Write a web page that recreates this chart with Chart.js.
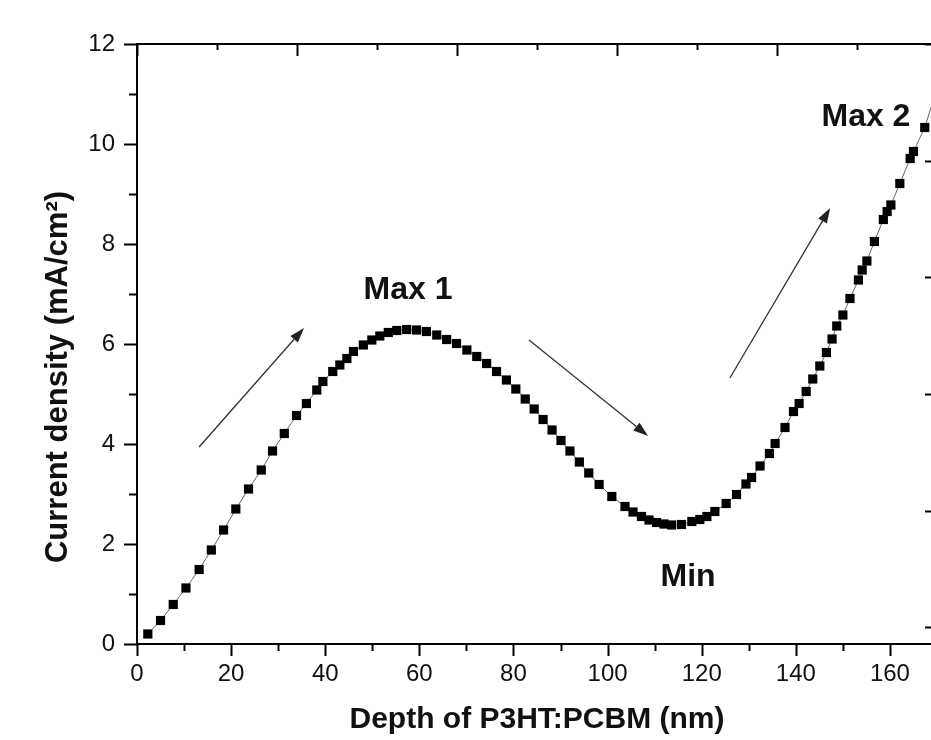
<!DOCTYPE html>
<html>
<head>
<meta charset="utf-8">
<title>Current density vs depth</title>
<script src="https://cdn.jsdelivr.net/npm/chart.js@4.4.1/dist/chart.umd.min.js"></script>
<style>
  html, body { margin: 0; padding: 0; background: #fff; overflow: hidden; width: 931px; height: 740px; }
  #wrap { width: 950px; height: 740px; }
</style>
</head>
<body>
<div id="wrap"><canvas id="chart" width="950" height="740"></canvas></div>
<script>
  // Depth (nm) and current density (mA/cm2).
  const depth = [
    2.3, 5.0, 7.7, 10.4, 13.2, 15.8, 18.4, 21.0, 23.7, 26.4,
    28.8, 31.3, 33.9, 36.0, 38.2, 39.5, 41.6, 43.1, 44.6, 46.0,
    48.1, 49.9, 51.6, 53.4, 55.2, 57.3, 59.4, 61.5, 63.7, 65.8,
    67.9, 70.1, 72.2, 74.3, 76.4, 78.5, 80.5, 82.5, 84.4, 86.3,
    88.2, 90.1, 92.0, 94.0, 96.0, 98.2, 100.9, 103.7, 105.4, 107.2,
    108.8, 110.4, 112.0, 113.6, 115.7, 117.9, 119.6, 121.1, 122.8, 125.2,
    127.4, 129.4, 130.6, 132.4, 134.4, 135.6, 137.7, 139.5, 140.7, 142.2,
    143.6, 145.1, 146.5, 147.7, 148.7, 150.0, 151.5, 153.3, 154.1, 155.1,
    156.7, 158.6, 159.4, 160.2, 162.1, 164.3, 165.0, 167.4, 169.8
  ];
  const current = [
    0.20, 0.47, 0.79, 1.12, 1.49, 1.88, 2.28, 2.70, 3.10, 3.48,
    3.86, 4.21, 4.57, 4.81, 5.08, 5.25, 5.45, 5.58, 5.71, 5.85,
    5.98, 6.08, 6.16, 6.23, 6.27, 6.29, 6.28, 6.25, 6.18, 6.09,
    6.01, 5.88, 5.75, 5.61, 5.45, 5.28, 5.10, 4.90, 4.70, 4.49,
    4.28, 4.07, 3.86, 3.64, 3.42, 3.19, 2.95, 2.75, 2.64, 2.55,
    2.48, 2.43, 2.40, 2.38, 2.39, 2.45, 2.49, 2.55, 2.65, 2.81,
    2.99, 3.20, 3.33, 3.56, 3.81, 4.01, 4.33, 4.65, 4.81, 5.05,
    5.30, 5.56, 5.83, 6.10, 6.36, 6.58, 6.91, 7.28, 7.48, 7.66,
    8.05, 8.49, 8.65, 8.78, 9.21, 9.71, 9.85, 10.33, 11.05
  ];

  // Axis tick marks
  const bottomTicks = [0, 10, 20, 30, 40, 50, 60, 70, 80, 90, 100, 110, 120, 130, 140, 150, 160, 170];
  const leftTicks = [0, 1, 2, 3, 4, 5, 6, 7, 8, 9, 10, 11, 12];
  // mirrored frame axes carry their own (unlabelled) spacing
  const topTicks = [0, 17, 34, 51, 68, 85, 102, 119, 136, 153, 170];
  const rightTicks = [12, 10.833, 9.667, 8.5, 7.333, 6.167, 5.0, 3.833, 2.667, 1.5, 0.333];

  // Annotations (data coordinates)
  const labelText = ['Max 1', 'Min', 'Max 2'];
  const labelX = [57.6, 117.1, 154.9];
  const labelY = [7.08, 1.34, 10.54];
  const arrowFrom = [[13.2, 3.94], [83.3, 6.08], [126.0, 5.32]];
  const arrowTo = [[35.5, 6.32], [108.6, 4.16], [147.3, 8.72]];

  const FONT = "'Liberation Sans', Arial, Helvetica, sans-serif";

  const framePlugin = {
    id: 'frame',
    afterDraw(chart) {
      const ctx = chart.ctx;
      const xs = chart.scales.x;
      const ys = chart.scales.y;
      const area = chart.chartArea;

      ctx.save();
      ctx.strokeStyle = '#000';
      ctx.lineWidth = 2;
      ctx.beginPath();
      ctx.moveTo(area.left - 1, area.top);
      ctx.lineTo(area.right, area.top);
      ctx.moveTo(area.right, area.top);
      ctx.lineTo(area.right, area.bottom);
      ctx.stroke();

      ctx.beginPath();
      bottomTicks.forEach(function (v) {
        const px = Math.round(xs.getPixelForValue(v)) + 0.5;
        const len = v % 20 === 0 ? 12 : 7;
        ctx.moveTo(px, area.bottom);
        ctx.lineTo(px, area.bottom + len);
      });
      leftTicks.forEach(function (v) {
        const py = Math.round(ys.getPixelForValue(v)) + 0.5;
        const len = v % 2 === 0 ? 13 : 8;
        ctx.moveTo(area.left, py);
        ctx.lineTo(area.left - len, py);
      });
      topTicks.forEach(function (v, i) {
        const px = Math.round(xs.getPixelForValue(v)) + 0.5;
        const len = i % 2 === 0 ? 12 : 6;
        ctx.moveTo(px, area.top);
        ctx.lineTo(px, area.top + len);
      });
      rightTicks.forEach(function (v, i) {
        const py = Math.round(ys.getPixelForValue(v)) + 0.5;
        const len = i % 2 === 0 ? 12 : 6;
        ctx.moveTo(area.right, py);
        ctx.lineTo(area.right - len, py);
      });
      ctx.stroke();

      // arrows
      ctx.strokeStyle = '#333';
      ctx.fillStyle = '#222';
      ctx.lineWidth = 1.3;
      arrowFrom.forEach(function (from, i) {
        const to = arrowTo[i];
        const x1 = xs.getPixelForValue(from[0]);
        const y1 = ys.getPixelForValue(from[1]);
        const x2 = xs.getPixelForValue(to[0]);
        const y2 = ys.getPixelForValue(to[1]);
        const ang = Math.atan2(y2 - y1, x2 - x1);
        const head = 15;
        const half = 5;
        const bx = x2 - head * Math.cos(ang);
        const by = y2 - head * Math.sin(ang);
        ctx.beginPath();
        ctx.moveTo(x1, y1);
        ctx.lineTo(bx, by);
        ctx.stroke();
        ctx.beginPath();
        ctx.moveTo(x2, y2);
        ctx.lineTo(bx + half * Math.sin(ang), by - half * Math.cos(ang));
        ctx.lineTo(bx - half * Math.sin(ang), by + half * Math.cos(ang));
        ctx.closePath();
        ctx.fill();
      });

      // point labels
      ctx.fillStyle = '#111';
      ctx.font = 'bold 32px ' + FONT;
      ctx.textAlign = 'center';
      ctx.textBaseline = 'middle';
      labelText.forEach(function (t, i) {
        ctx.fillText(t, xs.getPixelForValue(labelX[i]), ys.getPixelForValue(labelY[i]));
      });

      // y axis title
      ctx.font = 'bold 31px ' + FONT;
      ctx.translate(58, 377);
      ctx.rotate(-Math.PI / 2);
      ctx.fillText('Current density (mA/cm\u00B2)', 0, 0);
      ctx.restore();
    }
  };

  new Chart(document.getElementById('chart'), {
    type: 'line',
    data: {
      datasets: [{
        data: depth.map(function (d, i) { return { x: d, y: current[i] }; }),
        borderColor: '#666',
        borderWidth: 1,
        tension: 0,
        pointStyle: 'rect',
        pointRadius: 6.5,
        pointBackgroundColor: '#000',
        pointBorderWidth: 0,
      }],
    },
    options: {
      responsive: false,
      animation: false,
      devicePixelRatio: 1,
      layout: { padding: { top: 44, right: 13, left: 0, bottom: 0 } },
      plugins: {
        legend: { display: false },
        tooltip: { enabled: false },
      },
      scales: {
        x: {
          type: 'linear',
          min: 0,
          max: 170,
          grid: { display: false, drawTicks: false },
          border: { display: true, color: '#000', width: 2 },
          ticks: {
            stepSize: 20,
            includeBounds: false,
            color: '#111',
            padding: 16,
            maxRotation: 0,
            font: { family: FONT, size: 24 },
          },
          title: {
            display: true,
            text: 'Depth of P3HT:PCBM (nm)',
            color: '#111',
            font: { family: FONT, size: 30, weight: 'bold' },
            padding: { top: 0, bottom: 2 },
          },
          afterFit: function (scale) { scale.height = 96; },
        },
        y: {
          min: 0,
          max: 12,
          grid: { display: false, drawTicks: false },
          border: { display: true, color: '#000', width: 2 },
          ticks: {
            stepSize: 2,
            color: '#111',
            padding: 22,
            font: { family: FONT, size: 24 },
          },
          afterFit: function (scale) { scale.width = 137; },
        },
      },
    },
    plugins: [framePlugin],
  });
</script>
</body>
</html>
